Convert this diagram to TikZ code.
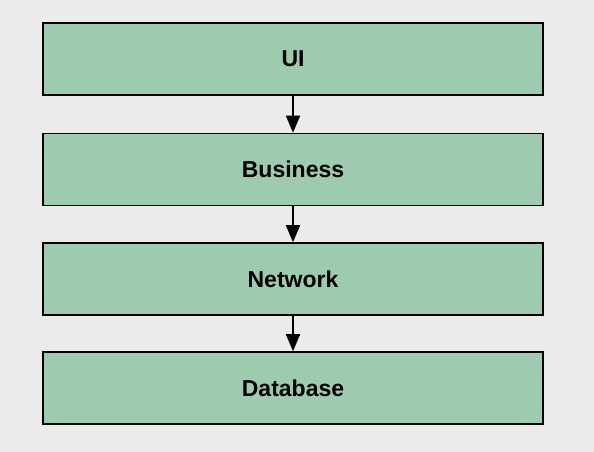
\documentclass[tikz,border=0pt]{standalone}
\usepackage{fontspec}
\setmainfont{Liberation Sans}
\usetikzlibrary{arrows.meta}
\definecolor{bg}{HTML}{EBEBEB}
\definecolor{layer}{HTML}{9ECBB0}
\begin{document}
\begin{tikzpicture}[x=1pt,y=1pt,
  layerbox/.style={draw=black, line width=1.6pt, fill=layer, minimum width=500pt, minimum height=72pt, inner sep=0pt, font=\fontsize{23}{26}\selectfont\bfseries},
  flow/.style={line width=1.6pt, -{Triangle[length=17pt,width=14pt]}}]
\fill[bg] (0,0) rectangle (594,-452);
\useasboundingbox (0,0) rectangle (594,-452);
\node[layerbox] (ui) at (293,-59) {UI};
\node[layerbox] (bus) at (293,-169.5) {Business};
\node[layerbox] (net) at (293,-279) {Network};
\node[layerbox] (db) at (293,-388) {Database};
\draw[flow] (ui.south) -- (bus.north);
\draw[flow] (bus.south) -- (net.north);
\draw[flow] (net.south) -- (db.north);
\end{tikzpicture}
\end{document}
